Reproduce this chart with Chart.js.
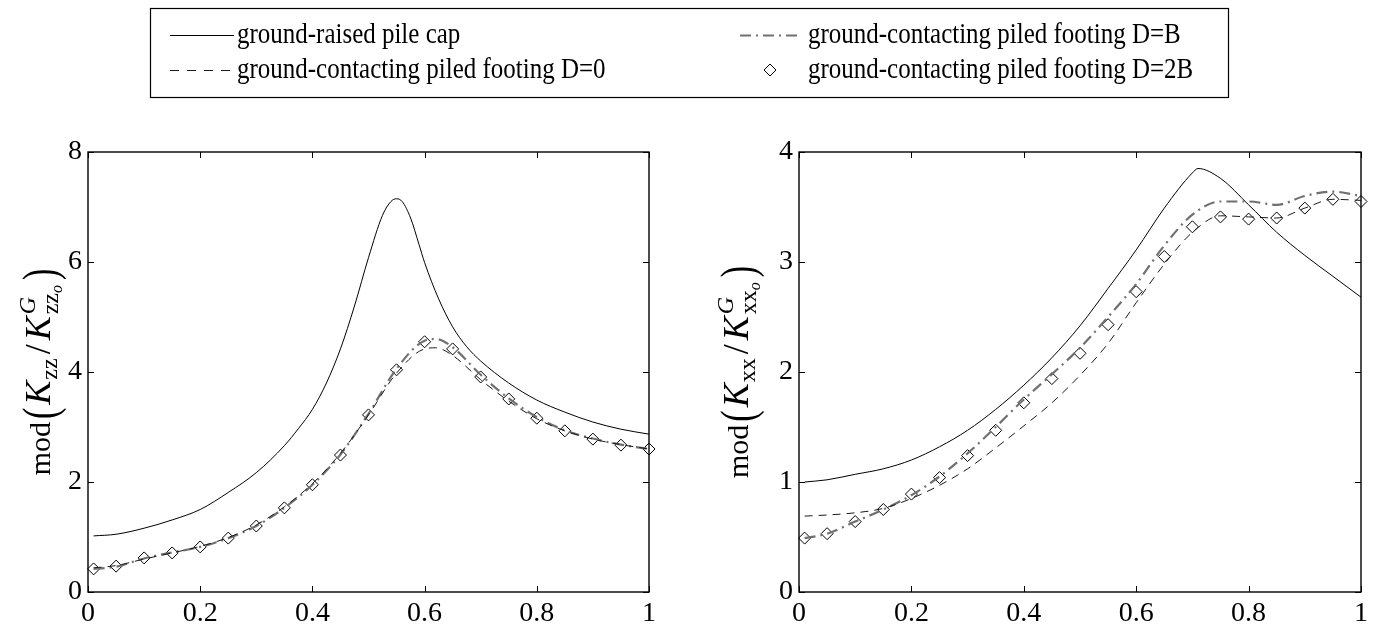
<!DOCTYPE html>
<html>
<head>
<meta charset="utf-8">
<script src="https://cdn.jsdelivr.net/npm/chart.js@4.4.1/dist/chart.umd.min.js"></script>
<style>
  body { margin: 0; background: #fff; }
  canvas { position: absolute; left: 0; top: 0; }
</style>
</head>
<body>
<canvas id="kzzChart" width="1378" height="632"></canvas>
<canvas id="kxxChart" width="1378" height="632"></canvas>
<script>
// --- data ---
const xTicks = [0, 0.2, 0.4, 0.6, 0.8, 1];
const yTicksZz = [0, 2, 4, 6, 8];
const yTicksXx = [0, 1, 2, 3, 4];

const seriesNames = [
  'ground-raised pile cap',
  'ground-contacting piled footing D=0',
  'ground-contacting piled footing D=B',
  'ground-contacting piled footing D=2B'
];

// common frequency samples (markers and most curves)
const freqs = [0.01, 0.05, 0.1, 0.15, 0.2, 0.25, 0.3, 0.35, 0.4, 0.45, 0.5,
               0.55, 0.6, 0.65, 0.7, 0.75, 0.8, 0.85, 0.9, 0.95, 1];

// left panel: mod(Kzz / KGzzo)
const zzRaisedX = [0.01, 0.05, 0.1, 0.15, 0.2, 0.25, 0.3, 0.35, 0.375, 0.4, 0.425, 0.45, 0.475,
                   0.5, 0.525, 0.54, 0.55, 0.56, 0.575, 0.59, 0.6, 0.625, 0.65, 0.675, 0.7,
                   0.75, 0.8, 0.85, 0.9, 0.95, 1];
const zzRaised  = [1.02, 1.05, 1.16, 1.31, 1.5, 1.81, 2.17, 2.66, 2.97, 3.32, 3.8, 4.42, 5.2,
                   6.08, 6.85, 7.1, 7.15, 7.1, 6.8, 6.32, 5.99, 5.33, 4.82, 4.46, 4.2,
                   3.8, 3.49, 3.27, 3.09, 2.96, 2.87];
const zzPeakX  = [0.01, 0.05, 0.1, 0.15, 0.2, 0.25, 0.3, 0.35, 0.4, 0.45, 0.5, 0.55,
                  0.6, 0.62, 0.65, 0.7, 0.75, 0.8, 0.85, 0.9, 0.95, 1];
const zzD0     = [0.44, 0.48, 0.6, 0.71, 0.83, 0.99, 1.22, 1.55, 1.97, 2.52, 3.22, 3.98,
                  4.42, 4.44, 4.3, 3.86, 3.47, 3.15, 2.93, 2.78, 2.68, 2.6];
const zzDB     = [0.42, 0.46, 0.61, 0.72, 0.82, 0.98, 1.2, 1.53, 1.95, 2.5, 3.24, 4.06,
                  4.57, 4.6, 4.45, 3.95, 3.52, 3.18, 2.94, 2.79, 2.68, 2.6];
const zzD2B    = [0.42, 0.47, 0.62, 0.71, 0.82, 0.98, 1.2, 1.53, 1.95, 2.49, 3.22,
                  4.04, 4.55, 4.42, 3.91, 3.51, 3.16, 2.93, 2.78, 2.67, 2.6];

// right panel: mod(Kxx / KGxxo)
const xxRaisedX = [0.01, 0.05, 0.1, 0.15, 0.2, 0.25, 0.3, 0.35, 0.4, 0.45, 0.5, 0.55,
                   0.6, 0.65, 0.7, 0.71, 0.75, 0.8, 0.85, 0.9, 0.95, 1];
const xxRaised  = [1.0, 1.02, 1.07, 1.12, 1.2, 1.32, 1.47, 1.66, 1.88, 2.13, 2.42, 2.76,
                   3.11, 3.49, 3.81, 3.85, 3.76, 3.52, 3.27, 3.06, 2.87, 2.68];
const xxD0  = [0.69, 0.7, 0.72, 0.76, 0.85, 0.97, 1.12, 1.31, 1.51, 1.72, 1.97,
               2.26, 2.63, 2.98, 3.27, 3.42, 3.41, 3.4, 3.49, 3.57, 3.56];
const xxDB  = [0.49, 0.53, 0.64, 0.75, 0.88, 1.05, 1.26, 1.5, 1.75, 1.98, 2.22,
               2.5, 2.8, 3.15, 3.43, 3.55, 3.55, 3.52, 3.6, 3.64, 3.6];
const xxD2B = [0.49, 0.53, 0.64, 0.75, 0.89, 1.04, 1.24, 1.47, 1.72, 1.94, 2.17,
               2.43, 2.73, 3.05, 3.32, 3.41, 3.39, 3.4, 3.49, 3.57, 3.55];

const SERIF = '"Liberation Serif", "Times New Roman", serif';
const W = 1378;

const pts = (xs, ys) => xs.map((x, i) => ({ x, y: ys[i] }));

function makeDatasets(raisedX, raised, d0X, d0, dbX, db, d2b) {
  return [
    {
      label: seriesNames[0], data: pts(raisedX, raised),
      borderColor: '#000', borderWidth: 1, pointRadius: 0,
      cubicInterpolationMode: 'monotone'
    },
    {
      label: seriesNames[1], data: pts(d0X, d0),
      borderColor: '#1a1a1a', borderWidth: 1, borderDash: [8, 6], pointRadius: 0,
      cubicInterpolationMode: 'monotone', legendDash: [9, 8]
    },
    {
      label: seriesNames[2], data: pts(dbX, db),
      borderColor: '#707070', borderWidth: 2.2, borderDash: [11, 5, 2, 5], pointRadius: 0,
      cubicInterpolationMode: 'monotone'
    },
    {
      label: seriesNames[3], data: pts(freqs, d2b), showLine: false,
      pointStyle: 'rectRot', pointRadius: 6, pointBorderWidth: 1,
      pointBorderColor: '#000', pointBackgroundColor: 'rgba(255,255,255,0)',
      clip: 12
    }
  ];
}

// draws "mod( K_sub / K^G_sub_o )" rotated up the left side
function drawYLabel(ctx, bx, cy, sub) {
  const pieces = [
    { t: 'mod', f: '30px', dy: 0, gap: 3 },
    { t: '(', f: '34px', dy: 0, gap: 3, tall: 1.45 },
    { t: 'K', f: 'italic 36px', dy: 0, gap: 1 },
    { t: sub, f: '24px', dy: 7, gap: 4 },
    { t: '/', f: '36px', dy: 0, gap: 4 },
    { t: 'K', f: 'italic 36px', dy: 0, gap: 2 },
    { t: 'G', f: 'italic 24px', dy: -15, over: true },
    { t: sub, f: '24px', dy: 8, gap: 0 },
    { t: 'o', f: 'italic 16px', dy: 12, gap: 5 },
    { t: ')', f: '34px', dy: 0, gap: 0, tall: 1.45 }
  ];
  ctx.save();
  let total = 0;
  pieces.forEach(p => {
    ctx.font = p.f + ' ' + SERIF;
    p.w = ctx.measureText(p.t).width;
    if (!p.over) total += p.w + p.gap;
  });
  ctx.translate(bx, cy);
  ctx.rotate(-Math.PI / 2);
  ctx.fillStyle = '#000';
  ctx.textBaseline = 'alphabetic';
  ctx.textAlign = 'left';
  let x = -total / 2;
  pieces.forEach(p => {
    ctx.font = p.f + ' ' + SERIF;
    if (p.tall) {
      // stretched delimiter, like a \left( ... \right) pair
      ctx.save();
      ctx.translate(x, 6);
      ctx.scale(1, p.tall);
      ctx.fillText(p.t, 0, 0);
      ctx.restore();
    } else {
      ctx.fillText(p.t, x, p.dy);
    }
    if (!p.over) x += p.w + p.gap;
  });
  ctx.restore();
}

// box round the plot area with inward ticks on all four sides
const framePlugin = {
  id: 'frame',
  afterDatasetsDraw(chart) {
    const { ctx, chartArea: a, scales } = chart;
    const len = 6;
    ctx.save();
    ctx.strokeStyle = '#000';
    ctx.lineWidth = 1.4;
    ctx.strokeRect(a.left, a.top, a.right - a.left, a.bottom - a.top);
    ctx.lineWidth = 1;
    ctx.beginPath();
    scales.x.ticks.forEach(t => {
      const px = Math.round(scales.x.getPixelForValue(t.value)) + 0.5;
      ctx.moveTo(px, a.bottom); ctx.lineTo(px, a.bottom - len);
      ctx.moveTo(px, a.top); ctx.lineTo(px, a.top + len);
    });
    scales.y.ticks.forEach(t => {
      const py = Math.round(scales.y.getPixelForValue(t.value)) + 0.5;
      ctx.moveTo(a.left, py); ctx.lineTo(a.left + len, py);
      ctx.moveTo(a.right, py); ctx.lineTo(a.right - len, py);
    });
    ctx.stroke();
    ctx.restore();
  },
  afterDraw(chart, args, opts) {
    drawYLabel(chart.ctx, opts.labelX, (chart.chartArea.top + chart.chartArea.bottom) / 2, opts.sub);
  }
};

// legend box at the top, drawn once on the left chart's full-page canvas
const legendPlugin = {
  id: 'boxLegend',
  afterDraw(chart) {
    const ctx = chart.ctx;
    ctx.save();
    ctx.strokeStyle = '#000';
    ctx.lineWidth = 1.2;
    ctx.strokeRect(150.5, 8.5, 1078, 89);
    ctx.fillStyle = '#000';
    ctx.textBaseline = 'middle';
    const rows = [35, 70];
    const items = [
      { col: 0, row: 0, ds: 0 }, { col: 0, row: 1, ds: 1 },
      { col: 1, row: 0, ds: 2 }, { col: 1, row: 1, ds: 3 }
    ];
    const cols = [{ x0: 170, x1: 234, tx: 237 }, { x0: 740, x1: 800, tx: 808 }];
    items.forEach(it => {
      const c = cols[it.col], y = rows[it.row];
      const ds = chart.data.datasets[it.ds];
      if (ds.showLine === false) {
        const cx = (c.x0 + c.x1) / 2, r = 6;
        ctx.beginPath();
        ctx.moveTo(cx, y - r); ctx.lineTo(cx + r, y); ctx.lineTo(cx, y + r); ctx.lineTo(cx - r, y);
        ctx.closePath();
        ctx.lineWidth = 1;
        ctx.setLineDash([]);
        ctx.strokeStyle = '#000';
        ctx.stroke();
      } else {
        ctx.beginPath();
        ctx.setLineDash(ds.legendDash || ds.borderDash || []);
        ctx.lineWidth = ds.borderWidth;
        ctx.strokeStyle = ds.borderColor;
        ctx.moveTo(c.x0, y + 0.5); ctx.lineTo(c.x1, y + 0.5);
        ctx.stroke();
      }
      ctx.setLineDash([]);
      // the figure's serif text is a little narrow, so squeeze it sideways
      ctx.save();
      ctx.translate(c.tx, y);
      ctx.scale(0.925, 1.08);
      ctx.font = '27px ' + SERIF;
      ctx.fillText(ds.label, 0, 0);
      ctx.restore();
    });
    ctx.restore();
  }
};

function makeOptions(yMax, yStep, yTicks, padLeft, padRight, axisW, labelX, sub) {
  return {
    responsive: false,
    animation: false,
    events: [],
    layout: { padding: { left: padLeft, right: padRight, top: 152, bottom: 0 } },
    plugins: {
      legend: { display: false },
      tooltip: { enabled: false },
      frame: { labelX, sub }
    },
    scales: {
      x: {
        type: 'linear', min: 0, max: 1,
        afterBuildTicks: s => { s.ticks = xTicks.map(v => ({ value: v })); },
        grid: { display: false, drawTicks: false },
        border: { display: false },
        ticks: {
          font: { family: SERIF, size: 28 }, color: '#000', padding: 5,
          maxRotation: 0, autoSkip: false,
          callback: v => (v === 0 || v === 1) ? String(v) : v.toFixed(1)
        },
        afterFit: s => { s.height = 40; s.paddingLeft = 0; s.paddingRight = 0; }
      },
      y: {
        min: 0, max: yMax,
        afterBuildTicks: s => { s.ticks = yTicks.map(v => ({ value: v })); },
        grid: { display: false, drawTicks: false },
        border: { display: false },
        ticks: {
          font: { family: SERIF, size: 28 }, color: '#000', padding: 6,
          stepSize: yStep, autoSkip: false
        },
        afterFit: s => { s.width = axisW; s.paddingTop = 0; s.paddingBottom = 0; }
      }
    }
  };
}

new Chart(document.getElementById('kzzChart'), {
  type: 'line',
  data: { datasets: makeDatasets(zzRaisedX, zzRaised, zzPeakX, zzD0, zzPeakX, zzDB, zzD2B) },
  options: makeOptions(8, 2, yTicksZz, 0, W - 649, 88, 50, 'zz'),
  plugins: [framePlugin, legendPlugin]
});

new Chart(document.getElementById('kxxChart'), {
  type: 'line',
  data: { datasets: makeDatasets(xxRaisedX, xxRaised, freqs, xxD0, freqs, xxDB, xxD2B) },
  options: makeOptions(4, 1, yTicksXx, 799 - 60, W - 1361, 60, 748, 'xx'),
  plugins: [framePlugin]
});
</script>
</body>
</html>
